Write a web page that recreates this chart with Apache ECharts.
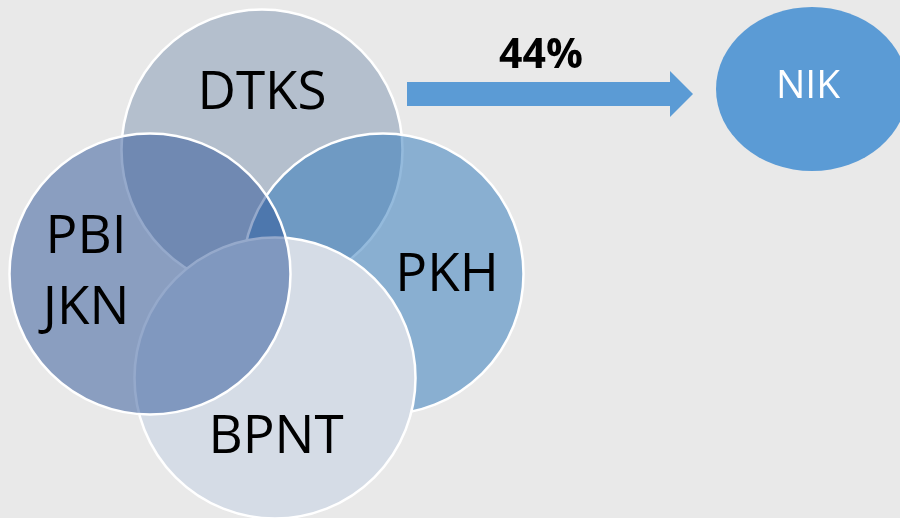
<!DOCTYPE html>
<html>
<head>
<meta charset="utf-8">
<script src="https://cdn.jsdelivr.net/npm/echarts@6/dist/echarts.min.js"></script>
<style>
    html, body { margin: 0; padding: 0; background: #e9e9e9; }
    #chart { width: 900px; height: 518px; }
</style>
</head>
<body>
<div id="chart"></div>
<script>
// himpunan data, urutan = urutan gambar (bawah ke atas)
const sets = ['DTKS', 'PKH', 'BPNT', 'PBI\nJKN']
const target = ['NIK']
const share = ['44%']

// tata letak diagram (piksel pada kanvas 900x518)
const centers = [[262, 150], [383, 274], [275, 378], [150, 274]]
const fills = ['rgba(127,149,177,0.5)', 'rgba(41,117,185,0.5)', '#d5dce6', 'rgba(43,83,151,0.5)']
const labelOffsets = [[0, -56], [64, 2], [1, 60], [-64, -1]]

const FONT = 'Open Sans'
const ellipse = 'path://M0,50A50,50,0,1,1,100,50A50,50,0,1,1,0,50Z'
const arrow = 'path://M0,11L263,11L263,0L286,23L263,46L263,35L0,35Z'

const chart = echarts.init(document.getElementById('chart'))

chart.setOption({
    backgroundColor: '#e9e9e9',
    animation: false,
    grid: { left: 0, right: 0, top: 0, bottom: 0 },
    xAxis: { type: 'value', min: 0, max: 900, show: false },
    yAxis: { type: 'value', min: 0, max: 518, inverse: true, show: false },
    series: [
        {
            // lingkaran venn
            type: 'scatter',
            silent: true,
            symbol: 'circle',
            symbolSize: 281,
            data: sets.map((name, i) => ({
                name: name,
                value: centers[i],
                itemStyle: { color: fills[i], borderColor: '#fff', borderWidth: 2.5, opacity: 1 },
                label: { offset: labelOffsets[i] }
            })),
            label: {
                show: true,
                position: 'inside',
                formatter: '{b}',
                color: '#000',
                fontFamily: FONT,
                fontSize: 53,
                lineHeight: 71
            }
        },
        {
            // panah + persentase
            type: 'scatter',
            silent: true,
            symbol: arrow,
            symbolSize: [286, 46],
            itemStyle: { color: '#5b9bd5', opacity: 1 },
            data: [{ name: share[0], value: [550, 94] }],
            label: {
                show: true,
                position: 'inside',
                offset: [-9, -38],
                formatter: '{b}',
                color: '#000',
                fontFamily: FONT,
                fontWeight: 'bold',
                fontSize: 41
            }
        },
        {
            // elips NIK
            type: 'scatter',
            silent: true,
            symbol: ellipse,
            symbolSize: [192, 164],
            itemStyle: { color: '#5b9bd5', opacity: 1 },
            data: [{ name: target[0], value: [812, 89] }],
            label: {
                show: true,
                position: 'inside',
                offset: [-4, -2],
                formatter: '{b}',
                color: '#fff',
                fontFamily: FONT,
                fontSize: 39
            }
        }
    ]
})
</script>
</body>
</html>
